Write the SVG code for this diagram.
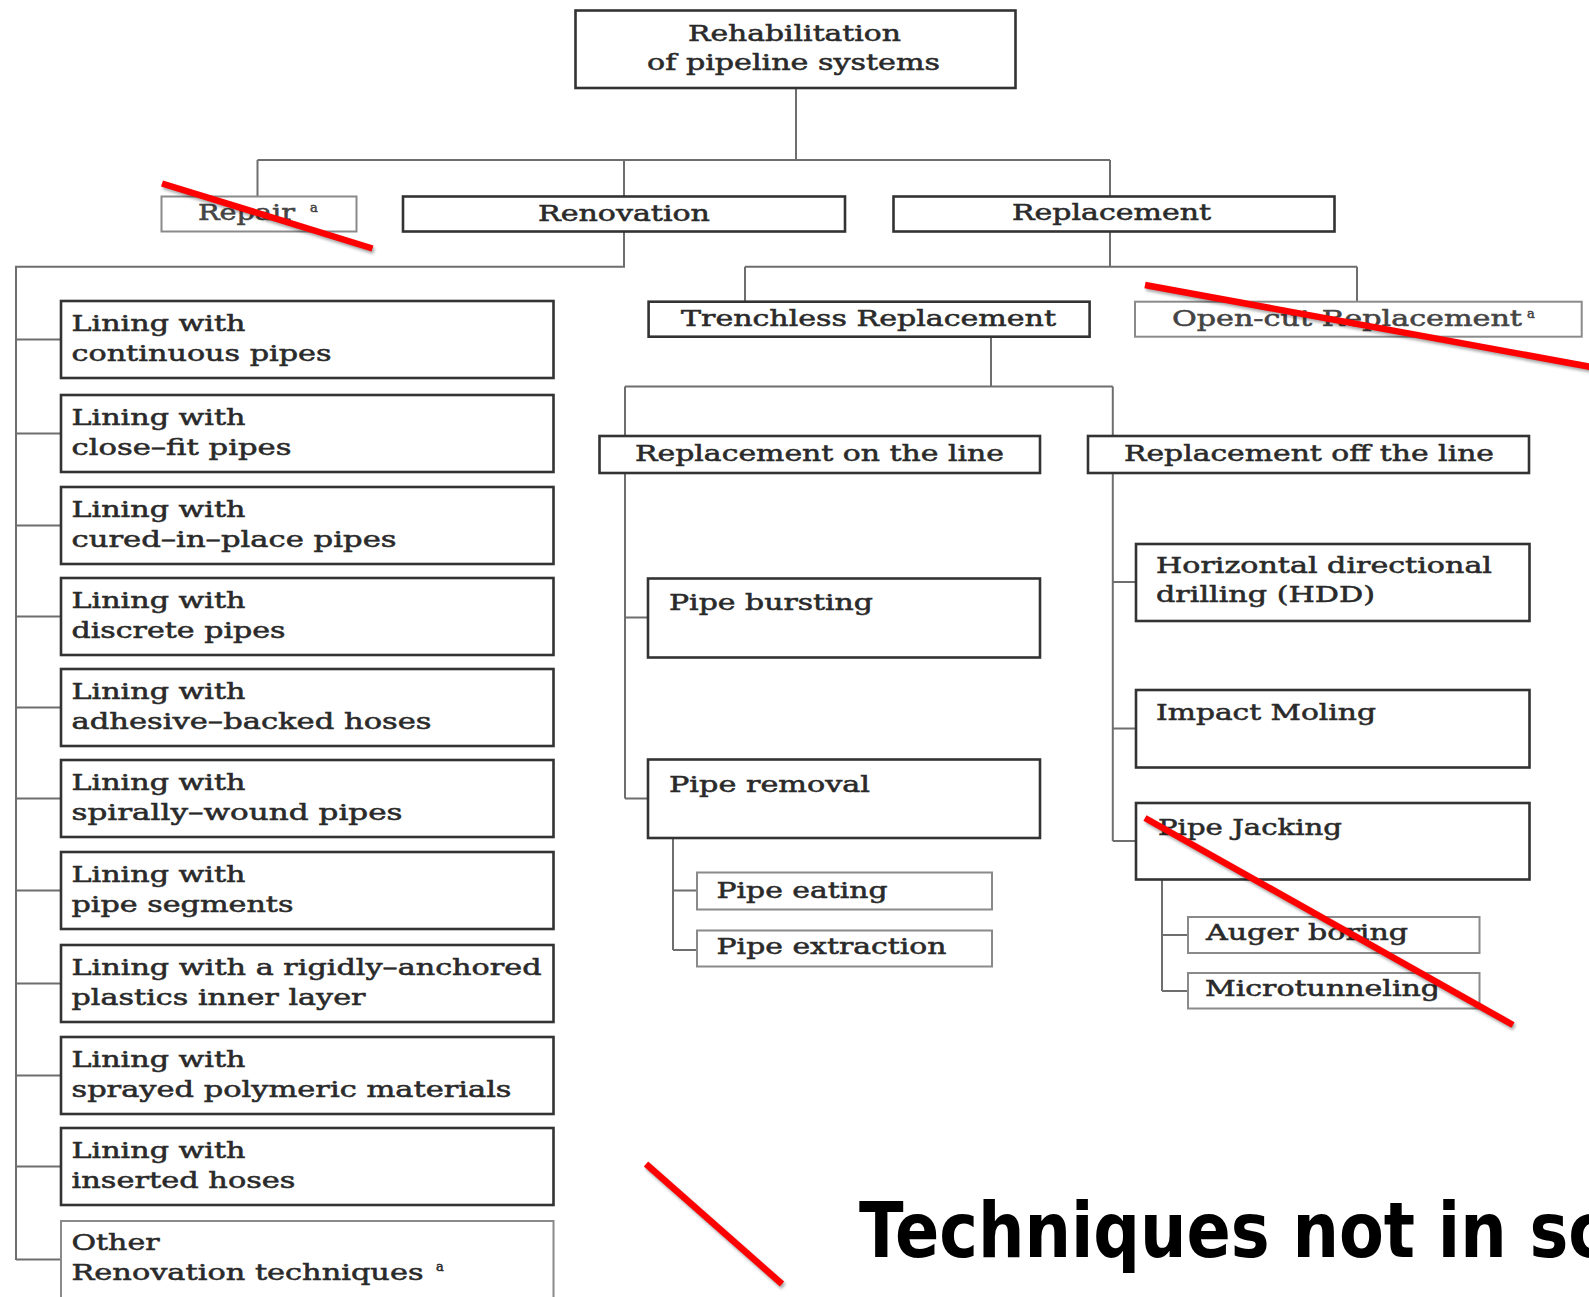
<svg xmlns="http://www.w3.org/2000/svg" width="1589" height="1297" viewBox="0 0 1589 1297">
<defs>
<style>
.box{fill:#fff;stroke:#333;stroke-width:2.6}
.light{stroke:#8a8a8a;stroke-width:2}
.conn{fill:none;stroke:#6e6e6e;stroke-width:2}
.t{font-family:"DejaVu Serif","Liberation Serif",serif;font-size:23px;fill:#2a2a2a;stroke:#2a2a2a;stroke-width:0.55}
.tl{fill:#444;stroke:#444}
.sup{font-size:13px}
.strike{stroke:#ff0000;stroke-width:6.5;stroke-linecap:butt}
.shadow{stroke:#000;stroke-opacity:0.35;stroke-width:6.5;filter:url(#blur)}
.big{font-family:"DejaVu Sans","Liberation Sans",sans-serif;font-weight:bold;font-size:76px;fill:#000}
</style>
<filter id="blur" x="-10%" y="-10%" width="120%" height="120%"><feGaussianBlur stdDeviation="1.5"/></filter>
</defs>
<rect width="1589" height="1297" fill="#fff"/>

<g id="connectors">
<path class="conn" d="M796,88 V160 M257.5,160 H1110 M257.5,160 V196.5 M624,160 V196.5 M1110,160 V196.5"/>
<path class="conn" d="M624,231.5 V266.7 H16 V1260"/>
<path class="conn" d="M16,339.5 H61 M16,433.5 H61 M16,525.5 H61 M16,616.5 H61 M16,707.5 H61 M16,798.5 H61 M16,890.5 H61 M16,983.5 H61 M16,1075.5 H61 M16,1166.5 H61 M16,1259.5 H61"/>
<path class="conn" d="M1110,231.5 V266.7 M745,266.7 H1357 M745,266.7 V301.7 M1357,266.7 V301.7"/>
<path class="conn" d="M991,336.7 V386.5 M625,386.5 H1112.8 M625,386.5 V436 M1112.8,386.5 V436"/>
<path class="conn" d="M625,473 V798.5 M625,617.5 H648 M625,798.5 H648"/>
<path class="conn" d="M673,838 V950 M673,890.5 H697 M673,950 H697"/>
<path class="conn" d="M1112.8,473 V841 M1112.8,582 H1136 M1112.8,728.5 H1136 M1112.8,841 H1136"/>
<path class="conn" d="M1162,879.5 V991 M1162,935 H1188 M1162,991 H1188"/>
</g>

<g id="n-root"><rect class="box" x="575.5" y="10.5" width="440" height="77.5"/>
<text class="t" x="688" y="41" textLength="213" lengthAdjust="spacingAndGlyphs">Rehabilitation</text>
<text class="t" x="647" y="70" textLength="293" lengthAdjust="spacingAndGlyphs">of pipeline systems</text></g>

<g id="n-repair"><rect class="box light" x="161.5" y="196.5" width="195" height="35"/>
<text class="t tl" x="198" y="220" textLength="97" lengthAdjust="spacingAndGlyphs">Repair</text>
<text class="t tl sup" x="310" y="212">a</text></g>

<g id="n-renovation"><rect class="box" x="403" y="196.5" width="442" height="35"/>
<text class="t" x="538" y="221" textLength="172" lengthAdjust="spacingAndGlyphs">Renovation</text></g>

<g id="n-replacement"><rect class="box" x="893.5" y="196.5" width="441" height="35"/>
<text class="t" x="1012" y="220" textLength="199" lengthAdjust="spacingAndGlyphs">Replacement</text></g>

<g id="n-trenchless"><rect class="box" x="648.6" y="301.7" width="441" height="35"/>
<text class="t" x="681" y="326" textLength="375" lengthAdjust="spacingAndGlyphs">Trenchless Replacement</text></g>

<g id="n-opencut"><rect class="box light" x="1135" y="301.7" width="446.7" height="35"/>
<text class="t tl" x="1172" y="326" textLength="350" lengthAdjust="spacingAndGlyphs">Open-cut Replacement</text>
<text class="t tl sup" x="1527" y="318">a</text></g>

<g id="n-online"><rect class="box" x="599.5" y="436" width="440.5" height="37"/>
<text class="t" x="635" y="461" textLength="369" lengthAdjust="spacingAndGlyphs">Replacement on the line</text></g>

<g id="n-offline"><rect class="box" x="1088" y="436" width="441" height="37"/>
<text class="t" x="1124" y="461" textLength="370" lengthAdjust="spacingAndGlyphs">Replacement off the line</text></g>

<g id="n-bursting"><rect class="box" x="648" y="578.5" width="392" height="79"/>
<text class="t" x="669" y="610" textLength="204" lengthAdjust="spacingAndGlyphs">Pipe bursting</text></g>

<g id="n-removal"><rect class="box" x="648" y="759.5" width="392" height="78.5"/>
<text class="t" x="669" y="792" textLength="201" lengthAdjust="spacingAndGlyphs">Pipe removal</text></g>

<g id="n-eating"><rect class="box light" x="697" y="872.5" width="295" height="37"/>
<text class="t" x="716.5" y="898" textLength="171" lengthAdjust="spacingAndGlyphs">Pipe eating</text></g>

<g id="n-extraction"><rect class="box light" x="697" y="930.5" width="295" height="36"/>
<text class="t" x="716.5" y="954" textLength="230" lengthAdjust="spacingAndGlyphs">Pipe extraction</text></g>

<g id="n-hdd"><rect class="box" x="1136" y="544" width="393.5" height="77"/>
<text class="t" x="1156" y="573" textLength="336" lengthAdjust="spacingAndGlyphs">Horizontal directional</text>
<text class="t" x="1156" y="602" textLength="219" lengthAdjust="spacingAndGlyphs">drilling (HDD)</text></g>

<g id="n-impact"><rect class="box" x="1136" y="690" width="393.5" height="77.5"/>
<text class="t" x="1156" y="720" textLength="220" lengthAdjust="spacingAndGlyphs">Impact Moling</text></g>

<g id="n-jacking"><rect class="box" x="1136" y="803" width="393.5" height="76.5"/>
<text class="t" x="1158" y="835" textLength="184" lengthAdjust="spacingAndGlyphs">Pipe Jacking</text></g>

<g id="n-auger"><rect class="box light" x="1188" y="917" width="291.5" height="36"/>
<text class="t" x="1206" y="940" textLength="202" lengthAdjust="spacingAndGlyphs">Auger boring</text></g>

<g id="n-micro"><rect class="box light" x="1188" y="973" width="291.5" height="35.5"/>
<text class="t" x="1205" y="996" textLength="235" lengthAdjust="spacingAndGlyphs">Microtunneling</text></g>

<g id="n-lin1"><rect class="box" x="61" y="301" width="492.5" height="77"/>
<text class="t" x="71.5" y="331" textLength="174" lengthAdjust="spacingAndGlyphs">Lining with</text>
<text class="t" x="71.5" y="360.5" textLength="260" lengthAdjust="spacingAndGlyphs">continuous pipes</text></g>

<g id="n-lin2"><rect class="box" x="61" y="395" width="492.5" height="77"/>
<text class="t" x="71.5" y="425" textLength="174" lengthAdjust="spacingAndGlyphs">Lining with</text>
<text class="t" x="71.5" y="454.5" textLength="220" lengthAdjust="spacingAndGlyphs">close–fit pipes</text></g>

<g id="n-lin3"><rect class="box" x="61" y="487" width="492.5" height="77"/>
<text class="t" x="71.5" y="517" textLength="174" lengthAdjust="spacingAndGlyphs">Lining with</text>
<text class="t" x="71.5" y="546.5" textLength="325" lengthAdjust="spacingAndGlyphs">cured–in–place pipes</text></g>

<g id="n-lin4"><rect class="box" x="61" y="578" width="492.5" height="77"/>
<text class="t" x="71.5" y="608" textLength="174" lengthAdjust="spacingAndGlyphs">Lining with</text>
<text class="t" x="71.5" y="637.5" textLength="214" lengthAdjust="spacingAndGlyphs">discrete pipes</text></g>

<g id="n-lin5"><rect class="box" x="61" y="669" width="492.5" height="77"/>
<text class="t" x="71.5" y="699" textLength="174" lengthAdjust="spacingAndGlyphs">Lining with</text>
<text class="t" x="71.5" y="728.5" textLength="360" lengthAdjust="spacingAndGlyphs">adhesive–backed hoses</text></g>

<g id="n-lin6"><rect class="box" x="61" y="760" width="492.5" height="77"/>
<text class="t" x="71.5" y="790" textLength="174" lengthAdjust="spacingAndGlyphs">Lining with</text>
<text class="t" x="71.5" y="819.5" textLength="331" lengthAdjust="spacingAndGlyphs">spirally–wound pipes</text></g>

<g id="n-lin7"><rect class="box" x="61" y="852" width="492.5" height="77"/>
<text class="t" x="71.5" y="882" textLength="174" lengthAdjust="spacingAndGlyphs">Lining with</text>
<text class="t" x="71.5" y="911.5" textLength="222" lengthAdjust="spacingAndGlyphs">pipe segments</text></g>

<g id="n-lin8"><rect class="box" x="61" y="945" width="492.5" height="77"/>
<text class="t" x="71.5" y="975" textLength="470" lengthAdjust="spacingAndGlyphs">Lining with a rigidly–anchored</text>
<text class="t" x="71.5" y="1004.5" textLength="294" lengthAdjust="spacingAndGlyphs">plastics inner layer</text></g>

<g id="n-lin9"><rect class="box" x="61" y="1037" width="492.5" height="77"/>
<text class="t" x="71.5" y="1067" textLength="174" lengthAdjust="spacingAndGlyphs">Lining with</text>
<text class="t" x="71.5" y="1096.5" textLength="440" lengthAdjust="spacingAndGlyphs">sprayed polymeric materials</text></g>

<g id="n-lin10"><rect class="box" x="61" y="1128" width="492.5" height="77"/>
<text class="t" x="71.5" y="1158" textLength="174" lengthAdjust="spacingAndGlyphs">Lining with</text>
<text class="t" x="71.5" y="1187.5" textLength="224" lengthAdjust="spacingAndGlyphs">inserted hoses</text></g>

<g id="n-other"><rect class="box light" x="61" y="1221" width="492.5" height="80"/>
<text class="t" x="71.5" y="1250" textLength="88" lengthAdjust="spacingAndGlyphs">Other</text>
<text class="t" x="71.5" y="1279.5" textLength="352" lengthAdjust="spacingAndGlyphs">Renovation techniques</text>
<text class="t sup" x="436" y="1271">a</text></g>

<g id="strikes">
<line class="shadow" x1="163.5" y1="186" x2="374" y2="251"/>
<line class="strike" x1="162" y1="183.5" x2="372.5" y2="248.5"/>
<line class="shadow" x1="1146.5" y1="287.5" x2="1601.5" y2="371"/>
<line class="strike" x1="1145" y1="285" x2="1600" y2="368.6"/>
<line class="shadow" x1="1146.5" y1="820.5" x2="1514.5" y2="1027.5"/>
<line class="strike" x1="1145" y1="818" x2="1513" y2="1025"/>
<line class="shadow" x1="647.5" y1="1166.5" x2="783.5" y2="1286.5"/>
<line class="strike" x1="646" y1="1164" x2="782" y2="1284"/>
</g>

<text class="big" x="859" y="1257" textLength="748" lengthAdjust="spacingAndGlyphs">Techniques not in sc</text>
</svg>
